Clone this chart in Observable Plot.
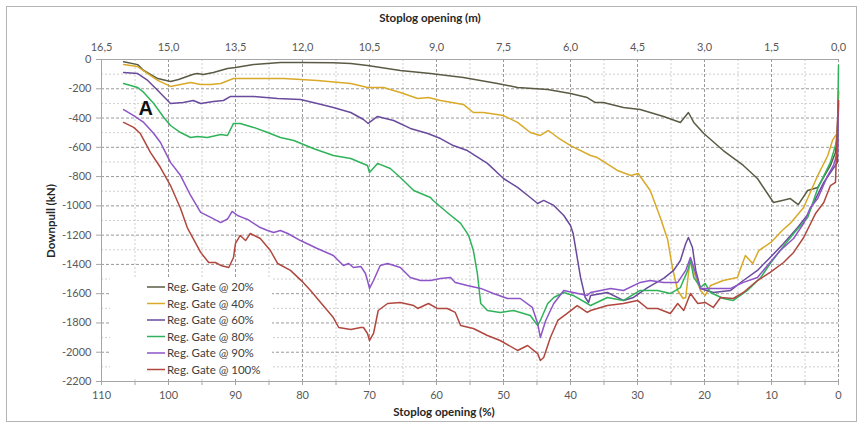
<!DOCTYPE html>
<html><head><meta charset="utf-8">
<script src="https://cdn.jsdelivr.net/npm/d3@7"></script>
<script src="https://cdn.jsdelivr.net/npm/@observablehq/plot@0.6"></script>
<style>body{margin:0;background:#fff}#chart svg{display:block}</style>
</head><body><div id="chart"></div>
<script>
// Series: [stoplog opening %, downpull kN]
const s20 = [[106.7,-15],[104.6,-35],[103.7,-75],[101.6,-130],[99.7,-150],[98.5,-137],[96.4,-102],[95.7,-96],[94.8,-102],[93.3,-89],[91.2,-61],[90.0,-55],[87.3,-34],[83.3,-20],[80.3,-20],[75.4,-22],[72.8,-27],[70.3,-41],[65.4,-75],[62.4,-89],[60.9,-96],[56.0,-123],[50.9,-164],[47.9,-191],[43.4,-205],[40.0,-232],[37.5,-260],[36.3,-294],[35.1,-294],[32.1,-328],[29.6,-342],[26.1,-389],[23.6,-430],[22.4,-362],[21.6,-430],[20.1,-506],[17.2,-622],[14.2,-724],[12.1,-813],[9.7,-977],[8.4,-963],[7.2,-950],[6.0,-991],[4.6,-895],[3.1,-874],[1.2,-724],[0.45,-635],[0.15,-450],[0,-220]];
const s40 = [[106.7,-34],[104.6,-48],[103.1,-96],[101.6,-143],[99.7,-184],[98.2,-171],[96.7,-157],[95.2,-171],[93.7,-171],[92.2,-164],[90.3,-130],[87.3,-130],[82.8,-130],[77.8,-143],[72.8,-164],[70.3,-191],[67.9,-191],[65.4,-225],[62.8,-266],[61.2,-260],[59.4,-280],[56.0,-307],[54.5,-362],[53.0,-362],[50.0,-383],[47.9,-430],[46.0,-499],[44.5,-519],[43.3,-485],[41.9,-533],[40.0,-588],[37.0,-656],[36.0,-670],[33.0,-758],[31.0,-793],[29.9,-779],[28.1,-895],[26.6,-1079],[25.5,-1230],[24.8,-1421],[24.0,-1578],[23.2,-1633],[22.8,-1626],[22.4,-1462],[22.1,-1373],[21.3,-1489],[20.6,-1578],[19.9,-1612],[19.1,-1544],[17.2,-1510],[15.1,-1489],[13.9,-1339],[12.8,-1394],[11.9,-1305],[10.1,-1250],[8.4,-1168],[7.2,-1120],[5.2,-1011],[3.1,-793],[1.6,-656],[0.9,-553],[0.15,-499],[0,-210]];
const s60 = [[106.7,-89],[104.6,-96],[103.1,-143],[101.6,-212],[99.7,-301],[97.8,-294],[96.3,-280],[95.2,-301],[93.3,-287],[91.8,-280],[90.8,-253],[87.3,-253],[83.7,-266],[80.3,-273],[77.8,-301],[75.4,-328],[72.8,-362],[70.9,-410],[70.2,-437],[68.8,-389],[66.4,-417],[63.9,-471],[61.3,-506],[59.4,-540],[57.5,-588],[55.4,-622],[52.4,-710],[50.0,-813],[47.9,-874],[46.0,-943],[44.9,-984],[44.0,-963],[42.5,-997],[41.0,-1066],[40.0,-1134],[39.6,-1189],[39.0,-1353],[38.5,-1489],[37.8,-1626],[37.3,-1660],[37.0,-1612],[34.5,-1592],[32.1,-1646],[30.6,-1626],[28.5,-1558],[26.1,-1496],[24.6,-1441],[23.6,-1373],[22.8,-1257],[22.4,-1216],[21.8,-1284],[21.3,-1441],[20.6,-1564],[18.7,-1592],[16.1,-1578],[14.2,-1510],[12.1,-1441],[10.2,-1353],[8.2,-1257],[6.1,-1148],[4.6,-1060],[2.2,-840],[1.2,-772],[0.15,-703],[0,-300]];
const s80 = [[106.7,-164],[104.6,-191],[103.7,-225],[102.2,-301],[100.7,-396],[99.7,-451],[98.2,-499],[96.7,-533],[95.7,-526],[94.2,-533],[92.2,-512],[91.2,-519],[90.3,-437],[89.3,-437],[87.3,-464],[85.2,-499],[83.3,-533],[81.3,-553],[78.4,-608],[75.4,-656],[72.8,-676],[70.3,-724],[70.0,-772],[68.8,-710],[66.9,-745],[65.4,-806],[63.4,-895],[60.9,-943],[60.5,-963],[58.4,-1045],[56.4,-1120],[55.2,-1202],[54.5,-1305],[53.9,-1462],[53.4,-1667],[52.4,-1715],[50.5,-1728],[48.5,-1715],[46.0,-1749],[44.9,-1817],[44.5,-1783],[43.4,-1667],[42.5,-1626],[41.0,-1592],[39.6,-1612],[37.5,-1667],[37.0,-1681],[34.5,-1626],[32.1,-1646],[29.6,-1578],[27.0,-1578],[25.1,-1599],[23.6,-1558],[22.5,-1441],[22.1,-1373],[21.6,-1489],[20.6,-1558],[19.9,-1530],[19.1,-1592],[17.2,-1633],[15.7,-1646],[13.6,-1578],[11.6,-1489],[10.2,-1394],[8.7,-1305],[6.7,-1189],[4.6,-1079],[3.1,-881],[1.2,-703],[0.15,-540],[0,-40]];
const s90 = [[106.7,-342],[105.2,-383],[103.7,-430],[102.2,-506],[101.2,-567],[99.7,-703],[98.2,-793],[96.7,-929],[95.2,-1045],[93.7,-1079],[92.2,-1114],[91.2,-1090],[90.5,-1038],[89.7,-1066],[89.0,-1079],[88.2,-1093],[86.3,-1148],[85.2,-1168],[84.3,-1182],[83.3,-1168],[82.2,-1189],[80.3,-1237],[77.8,-1291],[75.4,-1339],[73.9,-1407],[73.1,-1394],[72.4,-1421],[71.3,-1414],[70.6,-1462],[70.3,-1510],[70.0,-1564],[69.4,-1510],[68.4,-1407],[67.3,-1394],[65.4,-1421],[63.9,-1489],[62.4,-1510],[60.9,-1510],[59.4,-1496],[57.9,-1489],[57.2,-1523],[55.4,-1544],[53.4,-1564],[51.5,-1599],[49.4,-1633],[47.5,-1633],[45.7,-1694],[44.9,-1804],[44.5,-1899],[43.7,-1783],[42.5,-1667],[41.0,-1578],[39.6,-1592],[37.5,-1612],[37.0,-1592],[34.0,-1564],[32.1,-1578],[29.6,-1523],[28.1,-1510],[26.1,-1523],[24.0,-1523],[22.8,-1441],[22.1,-1353],[21.6,-1421],[20.6,-1564],[18.7,-1564],[16.1,-1564],[14.2,-1523],[12.1,-1489],[10.6,-1407],[8.7,-1305],[6.7,-1223],[5.2,-1120],[4.2,-1011],[3.1,-950],[1.6,-793],[0.75,-724],[0.15,-635],[0,-280]];
const s100 = [[106.7,-430],[105.2,-464],[104.2,-506],[102.7,-635],[101.2,-738],[99.7,-861],[98.2,-1018],[97.2,-1148],[95.2,-1318],[94.0,-1387],[93.0,-1387],[92.2,-1407],[91.0,-1421],[90.3,-1353],[90.0,-1257],[89.3,-1202],[88.5,-1237],[87.8,-1189],[86.3,-1223],[84.8,-1305],[83.7,-1394],[81.8,-1441],[79.9,-1523],[78.8,-1578],[77.3,-1660],[75.4,-1763],[74.6,-1831],[72.8,-1845],[71.3,-1831],[70.9,-1831],[70.3,-1872],[70.0,-1920],[69.4,-1872],[68.7,-1715],[67.3,-1667],[65.4,-1660],[63.4,-1681],[62.8,-1701],[61.2,-1667],[59.9,-1701],[58.4,-1701],[57.2,-1728],[56.4,-1817],[54.5,-1838],[52.4,-1886],[50.5,-1920],[47.9,-1988],[46.4,-1954],[44.9,-2009],[44.5,-2057],[44.0,-2036],[43.0,-1899],[41.9,-1783],[40.5,-1735],[39.0,-1681],[37.5,-1728],[37.0,-1715],[34.5,-1681],[32.1,-1667],[30.0,-1646],[28.5,-1701],[27.0,-1701],[25.1,-1735],[24.0,-1667],[23.1,-1715],[22.1,-1599],[21.0,-1667],[19.9,-1660],[18.7,-1694],[17.6,-1626],[15.7,-1633],[14.2,-1592],[12.1,-1510],[10.2,-1455],[8.2,-1387],[6.7,-1318],[5.2,-1216],[3.4,-1050],[2.2,-977],[1.2,-861],[0.45,-840],[0.15,-430],[0,-280]];

const seriesNames = ["Reg. Gate @ 20%","Reg. Gate @ 40%","Reg. Gate @ 60%","Reg. Gate @ 80%","Reg. Gate @ 90%","Reg. Gate @ 100%"];
const seriesColors = ["#5b5b45","#d9a928","#6a4a9c","#2fb35a","#8d55c8","#b0483f"];
const seriesData = [s20,s40,s60,s80,s90,s100];

const bottomTicks = [110,100,90,80,70,60,50,40,30,20,10,0];
const topTickLabels = ["16,5","15,0","13,5","12,0","10,5","9,0","7,5","6,0","4,5","3,0","1,5","0,0"];
const yTicks = [0,-200,-400,-600,-800,-1000,-1200,-1400,-1600,-1800,-2000,-2200];
const yMinor = [-100,-300,-500,-700,-900,-1100,-1300,-1500,-1700,-1900,-2100];
const xMinor = [105,95,85,75,65,55,45,35,25,15,5];

const rows = seriesData.flatMap((pts, i) => pts.map(([x, y]) => ({series: seriesNames[i], x, y})));

const W = 859, H = 423;
const chart = Plot.plot({
  width: W, height: H,
  marginLeft: 101, marginRight: 21, marginTop: 59, marginBottom: 42,
  style: {fontFamily: "Lato, sans-serif", fontSize: "11px", color: "#595959", background: "white"},
  x: {domain: [110, 0]},
  y: {domain: [-2200, 0]},
  color: {domain: seriesNames, range: seriesColors},
  marks: [
    Plot.ruleY(yMinor, {stroke: "#cfcfcf", strokeDasharray: "2,2", strokeWidth: 1}),
    Plot.ruleX(xMinor, {stroke: "#cfcfcf", strokeDasharray: "2,2", strokeWidth: 1}),
    Plot.ruleY(yTicks.filter(d => d !== 0 && d !== -2200), {stroke: "#9a9a9a", strokeDasharray: "3,2", strokeWidth: 1}),
    Plot.ruleX(bottomTicks.filter(d => d !== 110), {stroke: "#9a9a9a", strokeDasharray: "3,2", strokeWidth: 1}),
    Plot.ruleY([0, -2200], {stroke: "#a6a6a6", strokeWidth: 1}),
    Plot.ruleX([110], {stroke: "#a6a6a6", strokeWidth: 1}),
    Plot.axisX({anchor: "bottom", ticks: [...bottomTicks, ...xMinor], tickFormat: d => bottomTicks.includes(d) ? String(d) : "", tickSize: 4, tickPadding: 6, stroke: "#a6a6a6", label: null}),
    Plot.axisX({anchor: "top", ticks: bottomTicks, tickFormat: d => topTickLabels[bottomTicks.indexOf(d)], tickSize: 0, tickPadding: 9, label: null}),
    Plot.axisY({ticks: yTicks, tickFormat: d => String(d), tickSize: 5, tickPadding: 5, stroke: "#a6a6a6", label: null}),
    Plot.line(rows, {x: "x", y: "y", z: "series", stroke: "series", strokeWidth: 1.5}),
    Plot.text(["A"], {x: 103.4, y: -335, text: d => d, fontSize: 20, fontWeight: "bold", fill: "#111", fontFamily: "Liberation Sans, Arial, sans-serif"})
  ]
});

const svg = d3.select(chart);
// outer chart border
svg.insert("rect", ":first-child").attr("x", 6.5).attr("y", 6.5).attr("width", 850).attr("height", 415)
  .attr("fill", "white").attr("stroke", "#b5b5b5");
// titles
svg.append("text").attr("x", 430).attr("y", 22).attr("text-anchor", "middle")
  .attr("font-family", "Lato, sans-serif").attr("font-size", 11.5).attr("font-weight", "bold").attr("fill", "#262626")
  .text("Stoplog opening (m)");
svg.append("text").attr("x", 444).attr("y", 416).attr("text-anchor", "middle")
  .attr("font-family", "Lato, sans-serif").attr("font-size", 11.5).attr("font-weight", "bold").attr("fill", "#262626")
  .text("Stoplog opening (%)");
svg.append("text").attr("transform", "translate(55,221) rotate(-90)").attr("text-anchor", "middle")
  .attr("font-family", "Lato, sans-serif").attr("font-size", 11.5).attr("font-weight", "bold").attr("fill", "#262626")
  .text("Downpull (kN)");
// legend
const lg = svg.append("g").attr("text-anchor", "start");
lg.append("rect").attr("x", 110).attr("y", 278).attr("width", 162).attr("height", 100).attr("fill", "white");
seriesNames.forEach((name, i) => {
  const yy = 287 + i * 16.5;
  lg.append("line").attr("x1", 147).attr("x2", 165).attr("y1", yy).attr("y2", yy)
    .attr("stroke", seriesColors[i]).attr("stroke-width", 1.5);
  lg.append("text").attr("x", 167).attr("y", yy).attr("dy", "0.35em").attr("text-anchor", "start")
    .attr("font-family", "Lato, sans-serif").attr("font-size", 11.5).attr("fill", "#404040").text(name);
});
document.getElementById("chart").append(chart);
</script></body></html>
